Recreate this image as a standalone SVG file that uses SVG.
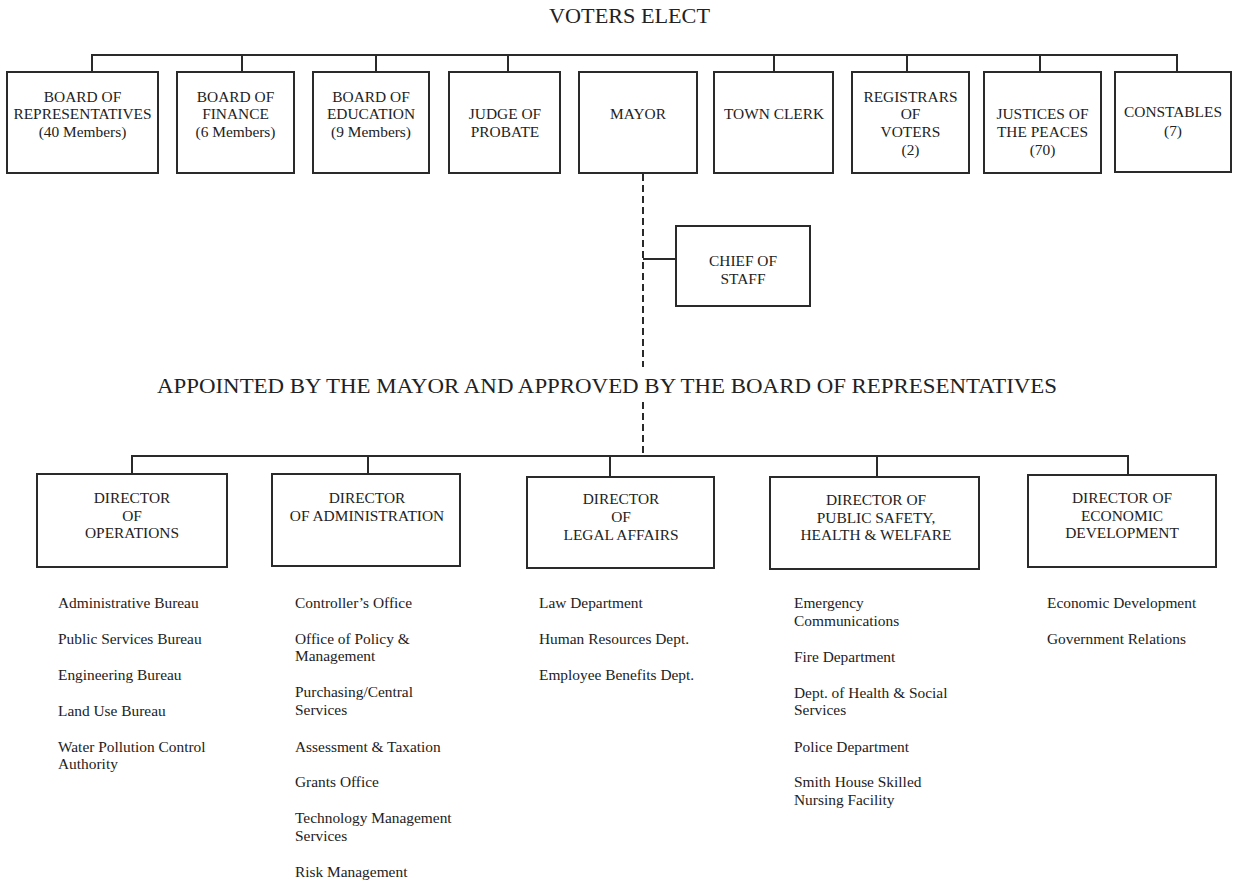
<svg xmlns="http://www.w3.org/2000/svg" width="1233" height="884" viewBox="0 0 1233 884">
<style>
  .box{fill:#fff;stroke:#2a2a2a;stroke-width:2}
  .ln{fill:none;stroke:#2a2a2a;stroke-width:2}
  .dash{fill:none;stroke:#2a2a2a;stroke-width:2;stroke-dasharray:7 4}
  text{font-family:"Liberation Serif","Times New Roman",serif;fill:#222}
  .t{font-size:15.4px;text-anchor:middle}
  .l{font-size:15.4px}
  .h{font-size:22px;text-anchor:middle}
</style>
<rect x="0" y="0" width="1233" height="884" fill="#fff"/>
<text class="h" x="629.5" y="23" textLength="161" lengthAdjust="spacingAndGlyphs">VOTERS ELECT</text>
<text x="157" y="393" font-size="20.5" textLength="900" lengthAdjust="spacingAndGlyphs">APPOINTED BY THE MAYOR AND APPROVED BY THE BOARD OF REPRESENTATIVES</text>
<g id="connectors">
  <path class="ln" d="M92,72 V55 H1177 V72 M242,55 V72 M376,55 V72 M508,55 V72 M774,55 V72 M907,55 V72 M1040,55 V72"/>
  <path class="dash" d="M643,174 V367 M643,402 V456"/>
  <path class="ln" d="M643,259 H676"/>
  <path class="ln" d="M132,474 V456 H1128 V475 M368,456 V474 M610,456 V477 M877,456 V477"/>
</g>
<g id="board-reps"><rect class="box" x="7" y="72" width="151" height="101"/><text class="t" x="82.5" y="102">BOARD OF</text><text class="t" x="82.5" y="119">REPRESENTATIVES</text><text class="t" x="82.5" y="137">(40 Members)</text></g>
<g id="board-finance"><rect class="box" x="177" y="72" width="117" height="101"/><text class="t" x="235.5" y="102">BOARD OF</text><text class="t" x="235.5" y="119">FINANCE</text><text class="t" x="235.5" y="137">(6 Members)</text></g>
<g id="board-education"><rect class="box" x="313" y="72" width="116" height="101"/><text class="t" x="371" y="102">BOARD OF</text><text class="t" x="371" y="119">EDUCATION</text><text class="t" x="371" y="137">(9 Members)</text></g>
<g id="judge-probate"><rect class="box" x="449" y="72" width="111" height="101"/><text class="t" x="505" y="119">JUDGE OF</text><text class="t" x="505" y="137">PROBATE</text></g>
<g id="mayor"><rect class="box" x="579" y="72" width="118" height="101"/><text class="t" x="638" y="119">MAYOR</text></g>
<g id="town-clerk"><rect class="box" x="714" y="72" width="119" height="101"/><text class="t" x="774" y="119">TOWN CLERK</text></g>
<g id="registrars"><rect class="box" x="852" y="72" width="117" height="101"/><text class="t" x="910.5" y="102">REGISTRARS</text><text class="t" x="910.5" y="119">OF</text><text class="t" x="910.5" y="137">VOTERS</text><text class="t" x="910.5" y="155">(2)</text></g>
<g id="justices"><rect class="box" x="984" y="72" width="117" height="101"/><text class="t" x="1042.5" y="119">JUSTICES OF</text><text class="t" x="1042.5" y="137">THE PEACES</text><text class="t" x="1042.5" y="155">(70)</text></g>
<g id="constables"><rect class="box" x="1115" y="72" width="116" height="100"/><text class="t" x="1173" y="117">CONSTABLES</text><text class="t" x="1173" y="136">(7)</text></g>
<g id="chief-of-staff"><rect class="box" x="676" y="226" width="134" height="80"/><text class="t" x="743" y="266">CHIEF OF</text><text class="t" x="743" y="284">STAFF</text></g>
<g id="dir-operations"><rect class="box" x="37" y="474" width="190" height="93"/><text class="t" x="132" y="503">DIRECTOR</text><text class="t" x="132" y="521">OF</text><text class="t" x="132" y="538">OPERATIONS</text></g>
<g id="dir-administration"><rect class="box" x="272" y="474" width="188" height="92"/><text class="t" x="367" y="503">DIRECTOR</text><text class="t" x="367" y="521">OF ADMINISTRATION</text></g>
<g id="dir-legal"><rect class="box" x="527" y="477" width="187" height="91"/><text class="t" x="621" y="504">DIRECTOR</text><text class="t" x="621" y="522">OF</text><text class="t" x="621" y="540">LEGAL AFFAIRS</text></g>
<g id="dir-public-safety"><rect class="box" x="770" y="477" width="209" height="92"/><text class="t" x="876" y="505">DIRECTOR OF</text><text class="t" x="876" y="523">PUBLIC SAFETY,</text><text class="t" x="876" y="540">HEALTH &amp; WELFARE</text></g>
<g id="dir-economic"><rect class="box" x="1028" y="475" width="188" height="92"/><text class="t" x="1122" y="503">DIRECTOR OF</text><text class="t" x="1122" y="521">ECONOMIC</text><text class="t" x="1122" y="538">DEVELOPMENT</text></g>
<g id="list-operations">
  <text class="l" x="58" y="608">Administrative Bureau</text>
  <text class="l" x="58" y="644">Public Services Bureau</text>
  <text class="l" x="58" y="680">Engineering Bureau</text>
  <text class="l" x="58" y="716">Land Use Bureau</text>
  <text class="l" x="58" y="752">Water Pollution Control</text>
  <text class="l" x="58" y="769">Authority</text>
</g>
<g id="list-administration">
  <text class="l" x="295" y="608">Controller’s Office</text>
  <text class="l" x="295" y="644">Office of Policy &amp;</text>
  <text class="l" x="295" y="661">Management</text>
  <text class="l" x="295" y="697">Purchasing/Central</text>
  <text class="l" x="295" y="715">Services</text>
  <text class="l" x="295" y="752">Assessment &amp; Taxation</text>
  <text class="l" x="295" y="787">Grants Office</text>
  <text class="l" x="295" y="823">Technology Management</text>
  <text class="l" x="295" y="841">Services</text>
  <text class="l" x="295" y="877">Risk Management</text>
</g>
<g id="list-legal">
  <text class="l" x="539" y="608">Law Department</text>
  <text class="l" x="539" y="644">Human Resources Dept.</text>
  <text class="l" x="539" y="680">Employee Benefits Dept.</text>
</g>
<g id="list-public-safety">
  <text class="l" x="794" y="608">Emergency</text>
  <text class="l" x="794" y="626">Communications</text>
  <text class="l" x="794" y="662">Fire Department</text>
  <text class="l" x="794" y="698">Dept. of Health &amp; Social</text>
  <text class="l" x="794" y="715">Services</text>
  <text class="l" x="794" y="752">Police Department</text>
  <text class="l" x="794" y="787">Smith House Skilled</text>
  <text class="l" x="794" y="805">Nursing Facility</text>
</g>
<g id="list-economic">
  <text class="l" x="1047" y="608">Economic Development</text>
  <text class="l" x="1047" y="644">Government Relations</text>
</g>
</svg>
